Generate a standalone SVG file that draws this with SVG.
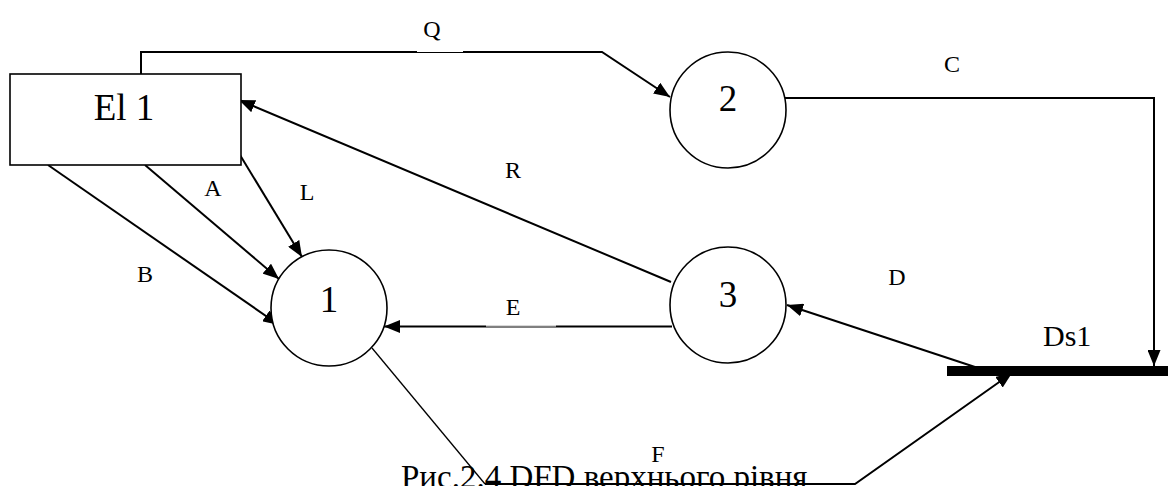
<svg xmlns="http://www.w3.org/2000/svg" width="1168" height="486" viewBox="0 0 1168 486">
  <style>
    .flow { fill: none; stroke: #000; stroke-width: 2; }
    .thin { fill: none; stroke: #000; stroke-width: 1.3; }
    .shape { fill: #fff; stroke: #000; stroke-width: 1.6; }
    text { font-family: 'Liberation Serif', 'DejaVu Serif', 'Times New Roman', serif; fill: #000; }
    .big { font-size: 37px; text-anchor: middle; }
    .lbl { font-size: 24px; text-anchor: middle; }
    .cap { font-size: 33px; }
  </style>
  <defs>
    <marker id="arrow" markerUnits="userSpaceOnUse" markerWidth="16" markerHeight="13" refX="16" refY="6.5" orient="auto">
      <path d="M0,0 L16,6.5 L0,13 z" fill="#000"/>
    </marker>
  </defs>
  <rect width="1168" height="486" fill="#fff"/>

  <!-- caption -->
  <text class="cap" x="401" y="488">Рис.2.4 DFD верхнього рівня</text>

  <!-- data flows -->
  <g id="connectors">
    <!-- Q: El 1 -> 2 -->
    <path class="flow" d="M141,74 V52 H602 L670,97" marker-end="url(#arrow)"/>
    <rect x="417" y="50.8" width="46" height="1.2" fill="#fff"/>
    <!-- C: 2 -> Ds1 -->
    <path class="flow" d="M785,98 H1154 V366" marker-end="url(#arrow)"/>
    <!-- R: 3 -> El 1 -->
    <path class="flow" d="M671,282 L239,100" marker-end="url(#arrow)"/>
    <!-- L: El 1 -> 1 -->
    <path class="flow" d="M240,155 L302,257" marker-end="url(#arrow)"/>
    <!-- A: El 1 -> 1 -->
    <path class="flow" d="M145,165 L279,279" marker-end="url(#arrow)"/>
    <!-- B: El 1 -> 1 -->
    <path class="flow" d="M48,165 L279,325" marker-end="url(#arrow)"/>
    <!-- E: 3 -> 1 -->
    <path class="flow" d="M672,326.5 H384" marker-end="url(#arrow)"/>
    <rect x="486" y="325.3" width="70" height="1.2" fill="#fff"/>
    <!-- D: Ds1 -> 3 -->
    <path class="flow" d="M975,367 L787,305" marker-end="url(#arrow)"/>
    <!-- F: 1 -> Ds1 -->
    <path class="thin" d="M372,348 L485,484"/>
    <path class="flow" d="M485,484 H855 L1012,373" marker-end="url(#arrow)"/>
  </g>

  <!-- flow labels -->
  <g id="labels">
    <text class="lbl" x="432" y="37">Q</text>
    <text class="lbl" x="952" y="72">C</text>
    <text class="lbl" x="513" y="178">R</text>
    <text class="lbl" x="213" y="196">A</text>
    <text class="lbl" x="307" y="200">L</text>
    <text class="lbl" x="145" y="282">B</text>
    <text class="lbl" x="513" y="315">E</text>
    <text class="lbl" x="897" y="285">D</text>
    <text class="lbl" x="658" y="462">F</text>
  </g>

  <!-- external entity -->
  <g id="el1">
    <rect class="shape" x="10" y="74" width="231" height="91"/>
    <text class="big" x="124" y="120">El 1</text>
  </g>

  <!-- processes -->
  <g id="p1">
    <circle class="shape" cx="329" cy="308" r="58"/>
    <text class="big" x="329" y="312">1</text>
  </g>
  <g id="p2">
    <circle class="shape" cx="728" cy="110" r="58"/>
    <text class="big" x="728" y="111">2</text>
  </g>
  <g id="p3">
    <circle class="shape" cx="728" cy="305" r="58"/>
    <text class="big" x="728" y="307">3</text>
  </g>

  <!-- data store -->
  <g id="ds1">
    <rect x="947" y="366" width="221" height="10" fill="#000"/>
    <text class="cap" x="1043" y="346" style="font-size:30px">Ds1</text>
  </g>
</svg>
